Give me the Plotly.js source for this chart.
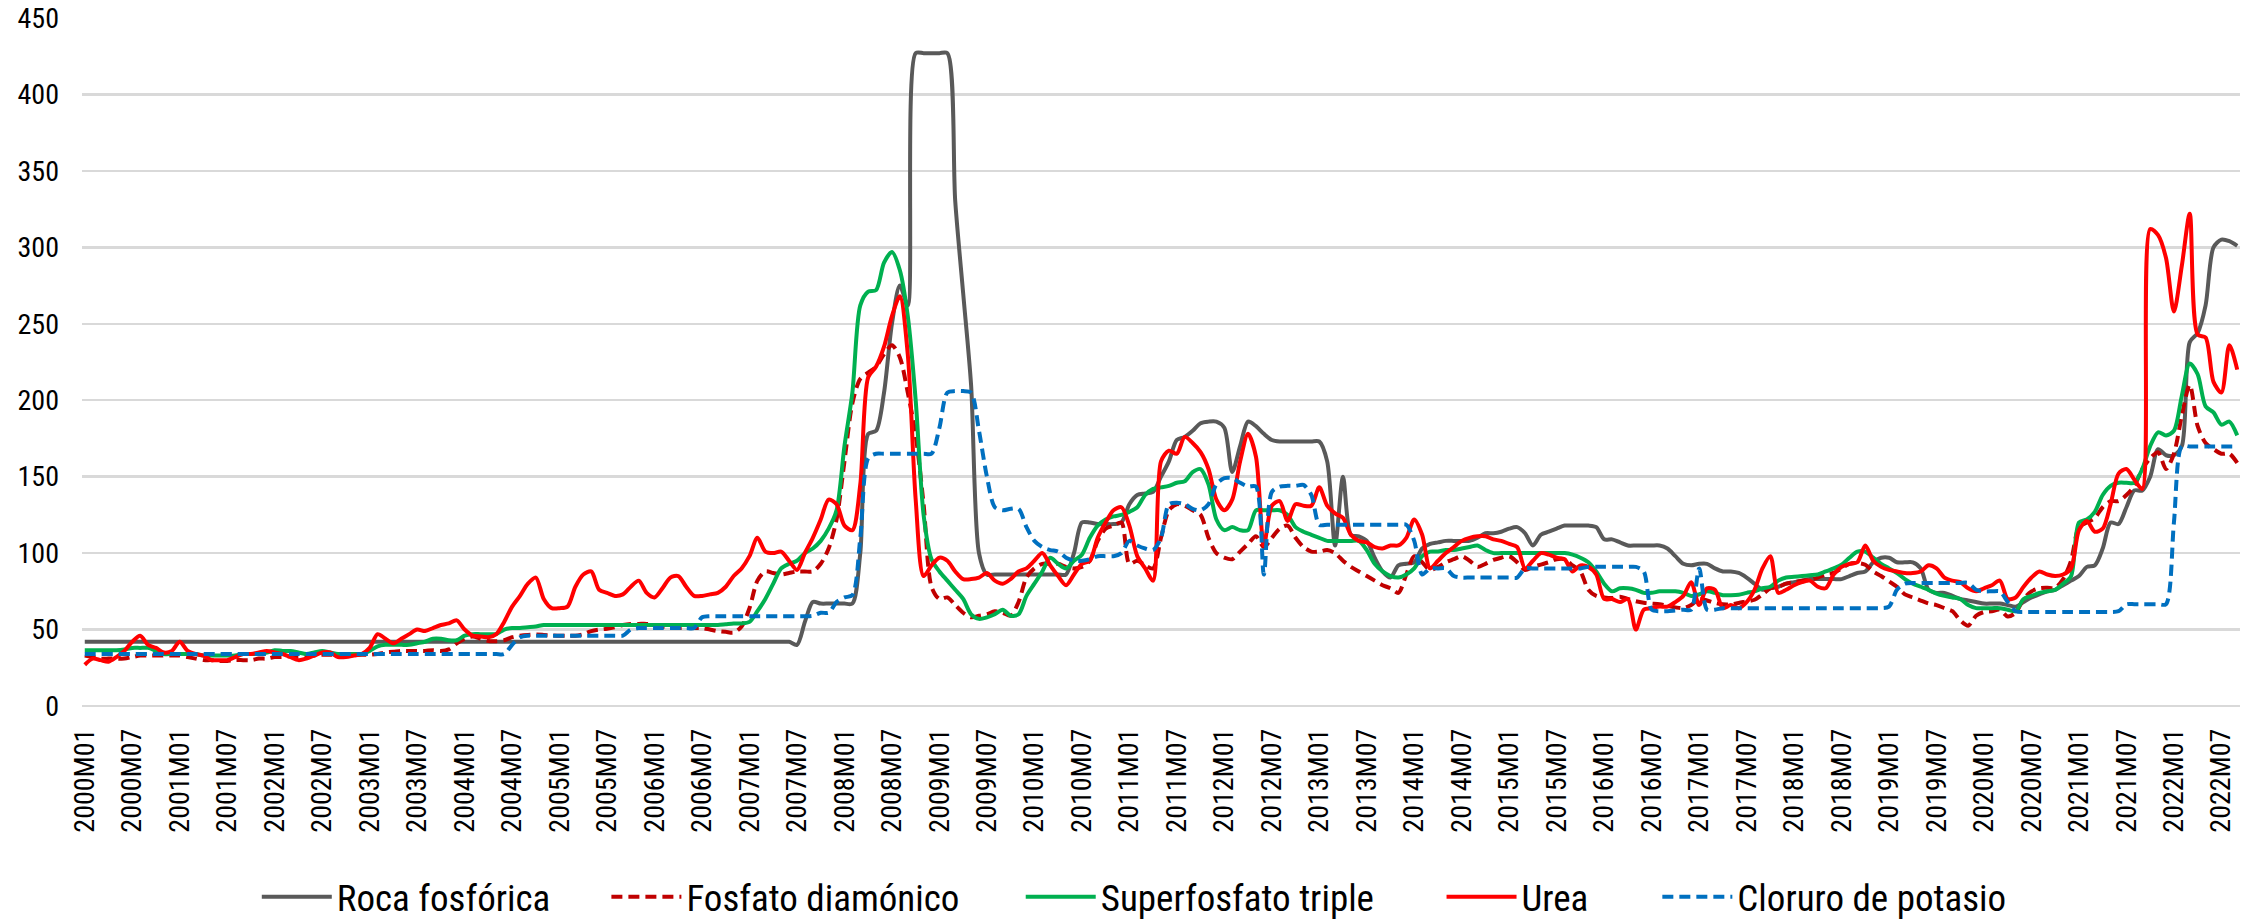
<!DOCTYPE html>
<html>
<head>
<meta charset="utf-8">
<script src="https://cdn.plot.ly/plotly-3.0.1.min.js"></script>
<style>html,body{margin:0;padding:0;background:#fff;}#chart{width:2252px;height:922px;}</style>
</head>
<body>
<div id="chart"></div>
<script>
// Monthly categories 2000M01 .. 2022M09
const firstYear = 2000, lastYear = 2022, lastMonth = 9;
const months = [];
for (let y = firstYear; y <= lastYear; y++) {
  for (let m = 1; m <= 12; m++) {
    if (y === lastYear && m > lastMonth) break;
    months.push(y + 'M' + (m < 10 ? '0' + m : m));
  }
}

const tickLabels = [
  '2000M01','2000M07','2001M01','2001M07','2002M01','2002M07','2003M01','2003M07',
  '2004M01','2004M07','2005M01','2005M07','2006M01','2006M07','2007M01','2007M07',
  '2008M01','2008M07','2009M01','2009M07','2010M01','2010M07','2011M01','2011M07',
  '2012M01','2012M07','2013M01','2013M07','2014M01','2014M07','2015M01','2015M07',
  '2016M01','2016M07','2017M01','2017M07','2018M01','2018M07','2019M01','2019M07',
  '2020M01','2020M07','2021M01','2021M07','2022M01','2022M07'
];

const rocaFosforica = [
  42,42,42,42,42,42,42,42,42,42,42,42,
  42,42,42,42,42,42,42,42,42,42,42,42,
  42,42,42,42,42,42,42,42,42,42,42,42,
  42,42,42,42,42,42,42,42,42,42,42,42,
  42,42,42,42,42,42,42,42,42,42,42,42,
  42,42,42,42,42,42,42,42,42,42,42,42,
  42,42,42,42,42,42,42,42,42,42,42,42,
  42,42,42,42,42,42,40,55,68,67,67,67,
  67,67,100,178,180,205,250,275,262,427,427,427,
  427,427,330,270,210,100,86,86,86,86,86,86,
  86,86,86,86,86,100,120,120,119,119,119,120,
  132,138,139,140,150,160,174,176,180,185,186,186,
  182,153,170,186,183,178,174,173,173,173,173,173,
  173,160,105,150,112,111,108,97,88,84,92,93,
  94,103,106,107,108,108,108,108,110,113,113,114,
  116,117,113,105,112,114,116,118,118,118,118,117,
  109,109,107,105,105,105,105,105,103,98,93,92,
  93,93,90,88,88,87,84,80,76,77,78,80,
  81,82,83,83,83,83,83,85,87,88,94,97,
  97,94,94,94,90,76,74,74,72,70,69,68,
  67,67,67,66,65,68,71,73,75,76,79,82,
  85,91,92,103,120,119,130,141,141,150,168,164,
  164,170,238,244,262,300,305,304,301
];

const fosfatoDiamonico = [
  33,32,31,31,31,31,32,33,33,33,33,33,
  33,32,31,30,30,29.5,29.5,30,30,30,31,31,
  32,32,32.6,32.6,33,33,33.5,33.5,33.5,33.7,33.7,33.5,
  33.5,34,35,35.5,36,36,36,36,36.5,36,37,41,
  44,45.5,44,42.5,42.4,43,45,46,46.5,46.7,46.5,46.2,
  46,46,46,47,49,50,50.5,51.5,53,53.7,53.7,53.7,
  53,52,51,51,51,51,51,50,49,48.5,48,52,
  64,82,88,87,86,87,88,88,88,93,103,122,
  160,198,214,218,222,230,236,228,205,177,132,78,
  70,71,66,61,58,59,60,62,61,59,68,84,
  90,93,93,93,91,90,91,95,108,116,118,120,
  93,95,92,90,110,128,132,131,128,125,110,100,
  97,96,101,106,111,104,110,116,118,110,104,101,
  101,102,100,95,91,88,85,82,79,77,74,86,
  98,94,89,91,94,96,98,95,91,93,95.5,97,
  98,94,89,91,92.5,94,96,96,92,88,76,72,
  71,70.6,71.5,70,68.5,67.5,67,66.5,65.5,64.5,64,66,
  70,69,67.4,66.5,66.5,67.4,68.5,69.5,73,77,78,80,
  81,82,82.5,84,86,87,90,93,93.5,92.4,88,85,
  81.5,78,73,71,69,67,66,64,62,56,52.5,59,
  61.5,62,63,58.5,61,70,75,77,77.3,77.3,83,95,
  117,120,123,130,134,134,138,144,155,162,166,155,
  165,190,210,183,172,168,165,165,159
];

const superfosfatoTriple = [
  36.5,36.5,36.5,36.5,36.5,37,38,38,38,36,34,34,
  34,34,34,33,33,33,33,33,34,34,34,35,
  36.5,36,36,35,34,35,36,35,34,34,34,34,
  36,39,40,40,40,40,41,42,44,44,43,43,
  46,47,47,47,47,50,51,51,51.5,52,53,53,
  53,53,53,53,53,53,53,53,53,53,53,53,
  53,53,53,53,53,53,53,53,53,53.5,54,54,
  55,62,70,80,90,93,95,100,103,108,116,128,
  170,205,262,271,272,290,297,285,255,200,125,96,
  88,82,76,70,60,57,58,60,63,59,60,72,
  80,88,97,93,90,95,99,110,118,122,124,125,
  127,130,138,142,143,144,146,147,153,155,145,122,
  115,117,115,115,128,128,128,128,125,117,114,112,
  110,108,108,108,108,108,102,93,88,85,84,86,
  90,98,101,101,102,102,103,104,105,102,100,100,
  100,100,100,100,100,100,100,100,99,97,94,88,
  80,75,77,77,76,74,74,75,75,75,74,72,
  73,75,74,72.5,72.5,72.8,74,75,77,78,82,84,
  84.5,85,85.5,86,88,90,92.4,97,101,101,97,93,
  90,87,83,80,78,76,73.5,72,71,70,66,64,
  64,64,64,63,62,70,72,74,75,76,80,85,
  120,122,127,138,144,146,146,146,155,170,179,177,
  180,203,224,217,196,192,184,186,177
];

const urea = [
  27,31,30,29,32,36,42,46,40,38,35,36,
  42,36,34,33,30,30,30,32,34,34,35,36,
  35,34,32,30,31,33,35,35,32,32,33,34,
  38,47,44,41,44,47,50,49,51,53,54,56,
  50,46,45.5,45,47,55,65,72,80,84,70,64,
  64,65,78,86,88,76,74,72,73,78,82,74,
  71,77,84,85,78,72,72,73,74,78,85,90,
  98,110,101,100,101,95,89,100,110,122,135,132,
  118,115,145,215,222,235,255,268,230,135,85,92,
  97,95,88,83,83,84,87,82,80,83,88,90,
  95,100,92,85,79,86,93,95,110,120,128,130,
  118,98,90,82,160,167,165,176,172,166,155,135,
  128,135,160,178,163,105,131,134,121,132,131,131,
  143,131,126,123,112,108,107,104,103,105,105,110,
  122,112,90,95,100,104,108,110,111,111,109,108,
  106,104,90,95,100,99,97,96,88,92,91,86,
  70,70,68,70,50,63,64,65,65,68,72,81,
  66,77,76,64,66,64,68,76,90,98,74,76,
  79,81,82,78,77,86,91,93,94,105,95,91,
  89,88,87,87,88,92,90,84,82,81,77,75,
  77,79,82,70,71,78,84,88,86,85,86,90,
  115,121,114,116,132,152,155,148,142,312,308,293,
  258,288,322,243,241,212,205,236,220
];

const cloruroPotasio = [
  34,34,34,34,34,34,34,34,34,34,34,34,
  34,34,34,34,34,34,34,34,34,34,34,34,
  34,34,34,34,34,34,34,34,34,34,34,34,
  34,34,34,34,34,34,34,34,34,34,34,34,
  34,34,34,34,34,34,40,45,46,46,46,46,
  46,46,46,46,46,46,46,46,46,50,51,51,
  51,51,51,51,51,51,58,58.7,58.7,58.7,58.7,58.7,
  58.7,58.7,58.7,58.7,58.7,58.7,58.7,58.7,59,61,61,68,
  71,72.5,110,162,165,165,165,165,165,165,165,165,
  182,205,206,206,205,180,150,130,128,129,129,117,
  108,104,102,101,97,95,95,96,98,98,98,100,
  108,105,103,102,110,132,133,132,129,128,132,145,
  149,149,146,143.5,143.5,86,140,143.5,144,144,144.6,138,
  118.5,118.5,118.5,118.5,118.5,118.5,118.5,118.5,118.5,118.5,118.5,118.5,
  108,86,90,90,90,85,84,84,84,84,84,84,
  84,84,90,90,90,90,90,90,90,90,91,91,
  91,91,91,91,91,88,63,62,62,62.5,63,63,
  90,63,63,64,64,64,64,64,64,64,64,64,
  64,64,64,64,64,64,64,64,64,64,64,64,
  65,76,80,80.5,80.5,80.5,80.5,80.5,80.5,80.5,80.5,76,
  75,75,75,68,62,61.5,61.5,61.5,61.5,61.5,61.5,61.5,
  61.5,61.5,61.5,61.5,61.5,62,66.5,66.6,66.6,66.6,66.6,66.6,
  120,170,169.7,169.7,169.7,169.7,169.7,169.7,169.7
];

const seriesNames = ['Roca fosfórica','Fosfato diamónico','Superfosfato triple','Urea','Cloruro de potasio'];
const seriesData = [rocaFosforica, fosfatoDiamonico, superfosfatoTriple, urea, cloruroPotasio];
const seriesColors = ['#595959','#c00000','#00b050','#ff0000','#0070c0'];
const seriesDash = ['solid','11px,6px','solid','solid','11px,6px'];
const legendIds = ['legend','legend2','legend3','legend4','legend5'];
const legendX = [0.081, 0.243, 0.435, 0.630, 0.730];

const FONT = '"Liberation Sans Narrow", "Arial Narrow", "Roboto Condensed", "DejaVu Sans Condensed", sans-serif';

const traces = seriesNames.map((name, i) => ({
  type: 'scatter',
  mode: 'lines',
  name: name,
  x: months,
  y: seriesData[i],
  legend: legendIds[i],
  line: {color: seriesColors[i], width: 4, dash: seriesDash[i], shape: 'spline', smoothing: 0.8},
  hoverinfo: 'x+y+name'
}));

const layout = {
  width: 2252,
  height: 922,
  paper_bgcolor: '#ffffff',
  plot_bgcolor: '#ffffff',
  margin: {l: 82, r: 12, t: 18, b: 216, pad: 0, autoexpand: false},
  font: {family: FONT, color: '#000000', size: 28},
  showlegend: true,
  xaxis: {
    type: 'category',
    automargin: false,
    range: [-0.35, months.length - 1 + 0.35],
    tickmode: 'array',
    tickvals: tickLabels,
    ticktext: tickLabels,
    tickangle: -90,
    ticks: '',
    showgrid: false,
    showline: false,
    zeroline: false,
    ticklabelstandoff: 16,
    tickfont: {family: FONT, size: 28, color: '#000000'}
  },
  yaxis: {
    automargin: false,
    range: [0, 450],
    tickmode: 'linear',
    tick0: 0,
    dtick: 50,
    ticks: '',
    showgrid: true,
    gridcolor: '#d9d9d9',
    gridwidth: 2.5,
    zeroline: true,
    zerolinecolor: '#d9d9d9',
    zerolinewidth: 2.5,
    showline: false,
    ticklabelstandoff: 22,
    tickfont: {family: FONT, size: 28, color: '#000000'}
  }
};

legendIds.forEach((id, i) => {
  layout[id] = {
    orientation: 'h',
    x: legendX[i],
    xanchor: 'left',
    yref: 'container',
    y: 0.027,
    yanchor: 'middle',
    font: {family: FONT, size: 37, color: '#000000'},
    bgcolor: 'rgba(0,0,0,0)',
    borderwidth: 0,
    itemwidth: 70
  };
});

Plotly.newPlot('chart', traces, layout, {displayModeBar: false, staticPlot: true});
</script>
</body>
</html>
